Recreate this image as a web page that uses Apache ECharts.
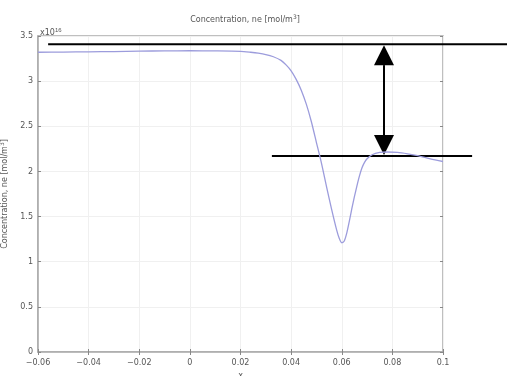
<!DOCTYPE html>
<html><head><meta charset="utf-8">
<script src="https://cdn.jsdelivr.net/npm/echarts@6/dist/echarts.min.js"></script>
<style>html,body{margin:0;padding:0;background:#fff}#c{width:507px;height:376px}</style>
</head><body><div id="c"></div>
<script>
// x positions and concentration values (units of 1e16 mol/m^3)
var xValues = [-0.06,-0.05,-0.04,-0.03,-0.02,-0.01,0,0.01,0.02,0.024,0.027,0.030,0.033,0.036,0.038,0.040,0.042,0.044,0.046,0.048,0.050,0.052,0.054,0.056,0.058,0.059,0.060,0.061,0.062,0.063,0.064,0.065,0.066,0.067,0.068,0.069,0.070,0.072,0.075,0.078,0.082,0.086,0.090,0.095,0.1];
var neValues = [3.32,3.322,3.325,3.328,3.332,3.335,3.337,3.335,3.33,3.32,3.31,3.295,3.27,3.23,3.18,3.115,3.02,2.90,2.745,2.55,2.32,2.09,1.83,1.58,1.35,1.26,1.21,1.23,1.32,1.45,1.59,1.72,1.84,1.95,2.04,2.10,2.14,2.185,2.21,2.215,2.21,2.195,2.175,2.14,2.11];
var xTicks = [-0.06,-0.04,-0.02,0,0.02,0.04,0.06,0.08,0.1];
var yTicks = [0,0.5,1,1.5,2,2.5,3,3.5];
// annotation (data units)
var topLevel = 3.41, topLineX = [-0.056, 0.1253];
var lowLevel = 2.17, lowLineX = [0.0324, 0.1115];
var arrowX = 0.0767;

var chart = echarts.init(document.getElementById('c'));
var fmt = function(v){ var s = (Math.round(v*100)/100).toString(); return s.replace('-', '\u2212'); };
var lab = {color:'#555', fontSize:8, fontFamily:'DejaVu Sans'};
var data = xValues.map(function(x,i){return [x, neValues[i]];});
var sup = {fontSize:6, verticalAlign:'top', color:'#555', padding:[0,0,6,0]};
chart.setOption({
  animation:false,
  title:{text:'Concentration, ne [mol/m{s|3}]', left:240, textAlign:'center', top:9,
    textStyle:{color:'#555', fontSize:8, fontWeight:'normal', fontFamily:'DejaVu Sans', rich:{s:sup}}},
  grid:{left:38, right:64, top:36, bottom:24, show:true, borderColor:'#aaa', borderWidth:1.5,
    containLabel:false, outerBoundsMode:'none'},
  xAxis:[{type:'value', min:-0.06, max:0.1, interval:0.02,
    name:'x', nameLocation:'middle', nameGap:16, nameTextStyle:lab,
    axisLine:{show:true, onZero:false, lineStyle:{color:'#aaa', width:1.5}},
    axisTick:{inside:true, length:3, lineStyle:{color:'#888'}},
    axisLabel:Object.assign({formatter:fmt, margin:7}, lab),
    splitLine:{show:true, lineStyle:{color:'#f0f0f0'}}},
   {type:'value', position:'top', min:-0.06, max:0.1, interval:0.02,
    axisLine:{show:false}, axisTick:{inside:true, length:3, lineStyle:{color:'#888'}},
    axisLabel:{show:false}, splitLine:{show:false}}],
  yAxis:[{type:'value', min:0, max:3.5, interval:0.5,
    name:'Concentration, ne [mol/m{s|3}]', nameLocation:'middle', nameGap:25,
    nameTextStyle:Object.assign({rich:{s:sup}}, lab),
    axisLine:{show:true, onZero:false, lineStyle:{color:'#aaa', width:1.5}},
    axisTick:{inside:true, length:3, lineStyle:{color:'#888'}},
    axisLabel:Object.assign({formatter:function(v){return String(v);}, margin:5}, lab),
    splitLine:{show:true, lineStyle:{color:'#f0f0f0'}}},
   {type:'value', position:'right', min:0, max:3.5, interval:0.5,
    axisLine:{show:false, onZero:false}, axisTick:{inside:true, length:3, lineStyle:{color:'#888'}},
    axisLabel:{show:false}, splitLine:{show:false}}],
  series:[{type:'line', data:data, smooth:0.25, symbol:'none',
    lineStyle:{color:'#9c9cdc', width:1.3}}]
});
var p = function(x,y){ return chart.convertToPixel({xAxisIndex:0, yAxisIndex:0}, [x,y]); };
var t0 = p(topLineX[0], topLevel), t1 = p(topLineX[1], topLevel);
var l0 = p(lowLineX[0], lowLevel), l1 = p(lowLineX[1], lowLevel);
var aT = p(arrowX, topLevel), aB = p(arrowX, lowLevel);
var hw = 10, hh = 21;
chart.setOption({graphic:[
  {type:'line', shape:{x1:t0[0], y1:t0[1], x2:t1[0], y2:t1[1]}, style:{stroke:'#000', lineWidth:2}},
  {type:'line', shape:{x1:l0[0], y1:l0[1], x2:l1[0], y2:l1[1]}, style:{stroke:'#000', lineWidth:2}},
  {type:'line', shape:{x1:aT[0], y1:aT[1]+hh, x2:aB[0], y2:aB[1]-hh}, style:{stroke:'#000', lineWidth:2}},
  {type:'polygon', shape:{points:[[aT[0], aT[1]+1],[aT[0]-hw, aT[1]+hh],[aT[0]+hw, aT[1]+hh]]}, style:{fill:'#000'}},
  {type:'polygon', shape:{points:[[aB[0], aB[1]-1],[aB[0]-hw, aB[1]-hh],[aB[0]+hw, aB[1]-hh]]}, style:{fill:'#000'}},
  {type:'text', left:40, top:27, style:{text:'x10{s|16}', fill:'#555', fontSize:8, fontFamily:'DejaVu Sans',
    rich:{s:{fontSize:6, verticalAlign:'top', fill:'#555', padding:[0,0,6,0]}}}}
]});
</script></body></html>
